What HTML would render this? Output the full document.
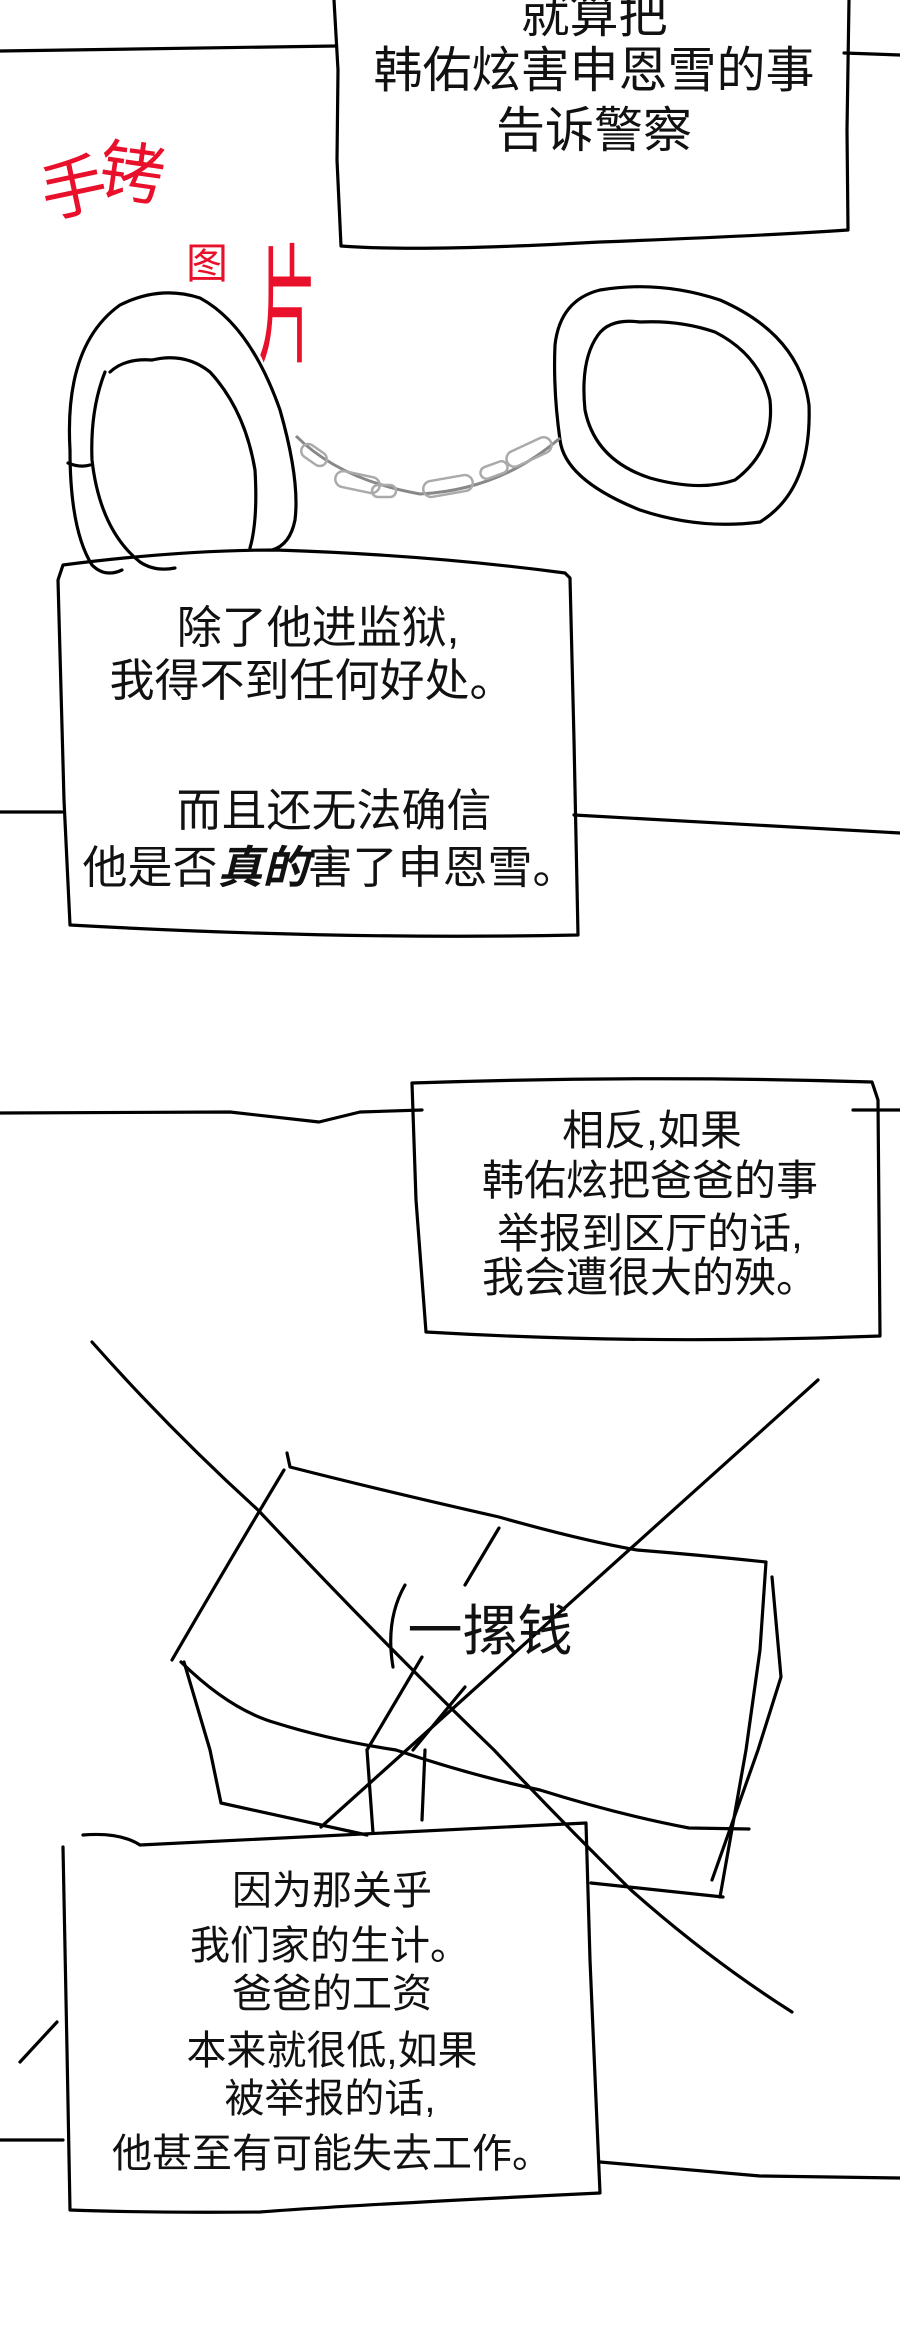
<!DOCTYPE html>
<html><head><meta charset="utf-8"><style>
html,body{margin:0;padding:0;background:#fff;}
svg{display:block;}
text{font-family:"Liberation Sans","Noto Sans CJK SC",sans-serif;}
</style></head><body>
<svg width="900" height="2334" viewBox="0 0 900 2334" xmlns="http://www.w3.org/2000/svg">
<g fill="none" stroke="#000" stroke-width="3.2" stroke-linecap="round" stroke-linejoin="round">
<path d="M0 51 L336 46"/>
<path d="M844 53 L900 55"/>
<!-- box 1 -->
<path d="M334 0 L338 70 L337 160 L341 246 Q420 252 600 242 Q760 236 848 230 L847 130 L849 0"/>
<!-- left cuff -->
<path d="M70 450 Q64 345 120 305 Q160 285 200 298 Q250 325 280 410 Q300 480 295 520 Q290 545 272 550"/>
<path d="M70 450 Q70 530 92 565 Q105 578 122 570"/>
<path d="M105 372 Q90 410 92 460 Q100 530 140 562 Q155 572 175 568"/>
<path d="M152 360 Q185 352 210 372 Q245 410 255 470 Q258 520 250 548"/>
<path d="M110 372 Q125 358 152 360"/>
<path d="M68 463 Q80 468 90 465"/>
<!-- right cuff -->
<path d="M555 345 Q560 300 600 290 Q660 280 720 300 Q800 335 809 405 Q812 490 760 522 Q700 530 640 510 Q565 480 560 440 Q553 390 555 345"/>
<path d="M598 335 Q610 318 640 322 Q680 320 715 332 Q760 355 770 400 Q775 450 735 480 Q700 492 650 478 Q595 460 585 410 Q580 360 598 335"/>
<!-- box 2 -->
<path d="M63 565 Q180 550 276 550 Q430 555 565 573 L570 578 L574 740 L578 935 Q340 940 70 925 L64 800 L58 580 Z"/>
<path d="M0 812 L62 812"/>
<path d="M574 815 L900 833"/>
<!-- section 2 lines -->
<path d="M0 1113 L230 1112 L319 1122 L360 1112 L422 1110"/>
<path d="M853 1110 L900 1110"/>
<!-- box 3 -->
<path d="M412 1083 Q650 1075 872 1082 L878 1100 L880 1336 Q650 1345 426 1332 L416 1200 Z"/>
<!-- crossing lines -->
<path d="M92 1342 Q170 1430 258 1510 Q380 1640 494 1750 Q560 1820 631 1890 Q710 1960 792 2012"/>
<path d="M818 1380 L321 1827"/>
<!-- money box -->
<path d="M287 1453 L290 1467 Q380 1490 499 1517 Q580 1540 637 1550 Q700 1555 766 1562 L760 1650 L746 1750 L720 1897"/>
<path d="M772 1577 L781 1677 L758 1750 L712 1880"/>
<path d="M284 1470 Q230 1560 172 1660"/>
<path d="M181 1662 Q230 1710 276 1723 Q330 1740 396 1750 Q470 1775 540 1790 Q620 1815 689 1828 L749 1829"/>
<path d="M184 1662 L210 1750 L221 1803 Q300 1820 367 1835"/>
<path d="M591 1883 L723 1897"/>
<path d="M367 1750 L373 1833"/>
<path d="M425 1750 L422 1820"/>
<path d="M422 1657 L367 1750"/>
<path d="M499 1528 L465 1585"/>
<path d="M405 1585 Q385 1620 393 1667"/>
<path d="M465 1687 L413 1750"/>
<!-- box 4 -->
<path d="M83 1835 Q120 1832 140 1845 Q300 1838 586 1823 L590 1960 L600 2193 Q350 2205 260 2212 Q150 2213 70 2210 L67 2050 L63 1847"/>
<path d="M0 2140 L63 2140"/>
<path d="M600 2162 L760 2176 L900 2178"/>
<path d="M20 2062 L57 2022"/>
</g>
<!-- chain -->
<g fill="none" stroke="#888" stroke-width="3">
<path d="M296 436 Q340 480 420 494 Q500 490 560 438"/>
</g>
<g fill="none" stroke="#aaa" stroke-width="2.5">
<rect x="300" y="448" width="28" height="14" rx="7" transform="rotate(35 314 455)"/>
<rect x="335" y="474" width="45" height="16" rx="8" transform="rotate(12 357 482)"/>
<rect x="372" y="485" width="24" height="12" rx="6"/>
<rect x="423" y="478" width="50" height="16" rx="8" transform="rotate(-10 448 486)"/>
<rect x="480" y="464" width="28" height="12" rx="6" transform="rotate(-20 494 470)"/>
<rect x="505" y="444" width="48" height="16" rx="8" transform="rotate(-25 529 452)"/>
</g>
<!-- red labels -->
<text x="40" y="212" font-size="66" style="fill:#e8102a" transform="rotate(-12 70 185)">手</text>
<text x="100" y="196" font-size="66" style="fill:#e8102a" transform="rotate(8 130 165)">铐</text>
<text x="186" y="278" font-size="42" style="fill:#e8102a">图</text>
<text x="0" y="0" font-size="130" style="fill:#e8102a" transform="translate(258 352) scale(0.45 1)">片</text>
<!-- texts -->
<g font-size="49" text-anchor="middle" style="fill:#111">
<text x="594" y="32">就算把</text>
<text x="594" y="87">韩佑炫害申恩雪的事</text>
<text x="594" y="147">告诉警察</text>
</g>
<g font-size="45" text-anchor="middle" style="fill:#111">
<text x="318" y="643">除了他进监狱,</text>
<text x="312" y="696">我得不到任何好处。</text>
<text x="334" y="826">而且还无法确信</text>
<text x="330" y="883">他是否<tspan font-weight="bold" font-style="italic">真的</tspan>害了申恩雪。</text>
</g>
<g font-size="42" text-anchor="middle" style="fill:#111">
<text x="652" y="1145">相反,如果</text>
<text x="650" y="1195">韩佑炫把爸爸的事</text>
<text x="650" y="1248">举报到区厅的话,</text>
<text x="650" y="1292">我会遭很大的殃。</text>
</g>
<text x="490" y="1650" font-size="55" text-anchor="middle" style="fill:#111">一摞钱</text>
<g font-size="40" text-anchor="middle" style="fill:#111">
<text x="332" y="1904">因为那关乎</text>
<text x="330" y="1959">我们家的生计。</text>
<text x="332" y="2007">爸爸的工资</text>
<text x="332" y="2064">本来就很低,如果</text>
<text x="330" y="2112">被举报的话,</text>
<text x="332" y="2167">他甚至有可能失去工作。</text>
</g>
</svg>
</body></html>
